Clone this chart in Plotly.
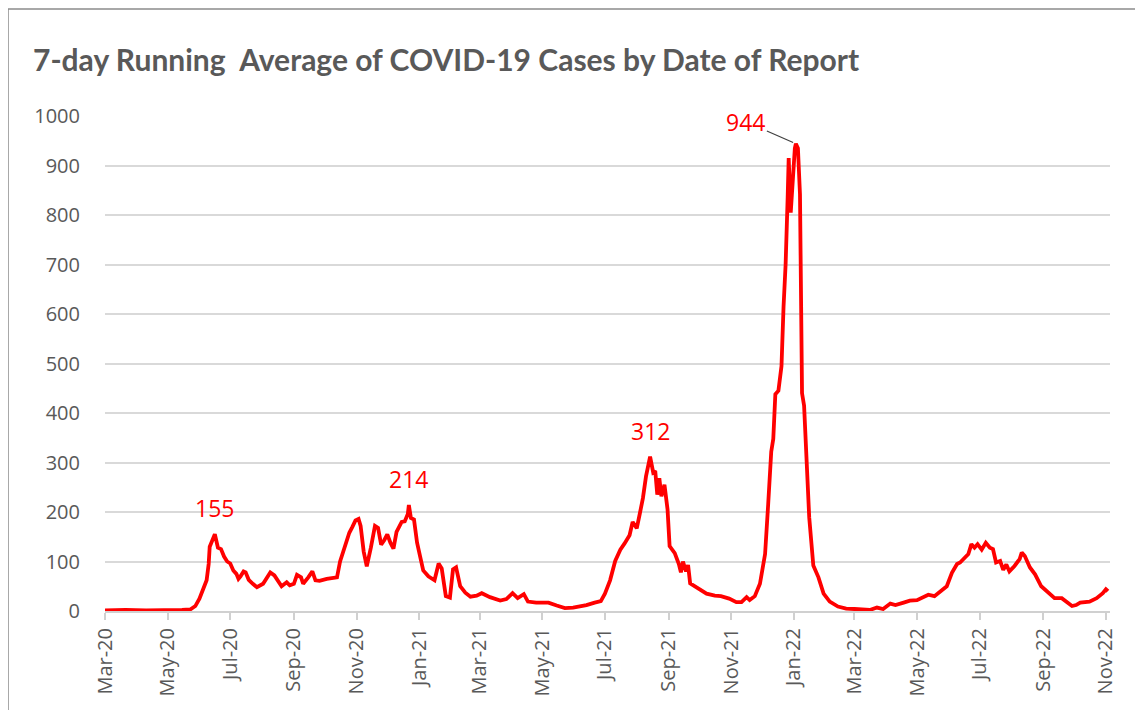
import plotly.graph_objects as go

dates = [
    "2020-03-01", "2020-03-21", "2020-04-10", "2020-04-30", "2020-05-15", "2020-05-23", "2020-05-28",
    "2020-06-01", "2020-06-05", "2020-06-08", "2020-06-10", "2020-06-11", "2020-06-13", "2020-06-16",
    "2020-06-19", "2020-06-22", "2020-06-25", "2020-06-28", "2020-07-01", "2020-07-04", "2020-07-07",
    "2020-07-09", "2020-07-11", "2020-07-14", "2020-07-16", "2020-07-19", "2020-07-23", "2020-07-27",
    "2020-08-02", "2020-08-06", "2020-08-09", "2020-08-13", "2020-08-17", "2020-08-20", "2020-08-25",
    "2020-08-28", "2020-09-01", "2020-09-04", "2020-09-08", "2020-09-10", "2020-09-15", "2020-09-19",
    "2020-09-22", "2020-09-26", "2020-10-03", "2020-10-08", "2020-10-13", "2020-10-16", "2020-10-21",
    "2020-10-25", "2020-10-28", "2020-10-31", "2020-11-03", "2020-11-05", "2020-11-08", "2020-11-11",
    "2020-11-15", "2020-11-19", "2020-11-22", "2020-11-25", "2020-11-28", "2020-12-01", "2020-12-04",
    "2020-12-07", "2020-12-10", "2020-12-15", "2020-12-18", "2020-12-21", "2020-12-22", "2020-12-24",
    "2020-12-27", "2020-12-30", "2021-01-02", "2021-01-05", "2021-01-10", "2021-01-16", "2021-01-20",
    "2021-01-23", "2021-01-27", "2021-01-31", "2021-02-03", "2021-02-06", "2021-02-10", "2021-02-15",
    "2021-02-20", "2021-02-26", "2021-03-03", "2021-03-11", "2021-03-21", "2021-03-27", "2021-04-02",
    "2021-04-07", "2021-04-13", "2021-04-17", "2021-04-25", "2021-05-07", "2021-05-15", "2021-05-23",
    "2021-05-31", "2021-06-07", "2021-06-13", "2021-06-21", "2021-06-27", "2021-07-01", "2021-07-06",
    "2021-07-11", "2021-07-16", "2021-07-20", "2021-07-25", "2021-07-28", "2021-08-01", "2021-08-04",
    "2021-08-07", "2021-08-10", "2021-08-13", "2021-08-14", "2021-08-17", "2021-08-19", "2021-08-21",
    "2021-08-23", "2021-08-25", "2021-08-28", "2021-08-31", "2021-09-02", "2021-09-07", "2021-09-11",
    "2021-09-13", "2021-09-15", "2021-09-18", "2021-09-20", "2021-09-22", "2021-09-27", "2021-10-01",
    "2021-10-08", "2021-10-16", "2021-10-22", "2021-10-30", "2021-11-06", "2021-11-11", "2021-11-16",
    "2021-11-19", "2021-11-24", "2021-11-29", "2021-12-04", "2021-12-07", "2021-12-10", "2021-12-12",
    "2021-12-14", "2021-12-17", "2021-12-20", "2021-12-22", "2021-12-24", "2021-12-26", "2021-12-27",
    "2021-12-29", "2021-12-31", "2022-01-02", "2022-01-03", "2022-01-05", "2022-01-07", "2022-01-08",
    "2022-01-09", "2022-01-11", "2022-01-13", "2022-01-16", "2022-01-20", "2022-01-25", "2022-01-30",
    "2022-02-05", "2022-02-13", "2022-02-21", "2022-03-01", "2022-03-11", "2022-03-16", "2022-03-23",
    "2022-03-29", "2022-04-05", "2022-04-10", "2022-04-18", "2022-04-24", "2022-05-01", "2022-05-07",
    "2022-05-12", "2022-05-18", "2022-05-25", "2022-05-30", "2022-06-04", "2022-06-09", "2022-06-12",
    "2022-06-17", "2022-06-20", "2022-06-23", "2022-06-26", "2022-06-29", "2022-07-03", "2022-07-07",
    "2022-07-11", "2022-07-14", "2022-07-17", "2022-07-21", "2022-07-24", "2022-07-27", "2022-07-30",
    "2022-08-04", "2022-08-09", "2022-08-11", "2022-08-14", "2022-08-19", "2022-08-24", "2022-08-30",
    "2022-09-06", "2022-09-12", "2022-09-19", "2022-09-24", "2022-09-29", "2022-10-03", "2022-10-07",
    "2022-10-16", "2022-10-23", "2022-10-29", "2022-11-01", "2022-11-03",
]

cases = [
    1, 2, 1, 1, 2, 3, 10,
    25, 45, 62, 95, 130, 140, 155,
    128, 125, 110, 100, 96, 82, 75,
    65, 70, 80, 78, 63, 55, 48,
    55, 68, 78, 72, 58, 50, 58,
    52, 55, 73, 68, 55, 68, 80,
    62, 61, 65, 66, 68, 100, 135,
    158, 170, 183, 186, 172, 120, 90,
    128, 172, 168, 134, 143, 155, 138,
    126, 160, 180, 181, 196, 214, 188,
    185, 138, 110, 82, 70, 62, 96,
    86, 30, 27, 84, 88, 50, 37,
    29, 31, 36, 28, 21, 24, 36,
    26, 34, 19, 17, 17, 11, 6,
    7, 9, 12, 17, 20, 35, 62,
    101, 124, 136, 153, 180, 167, 197,
    228, 272, 300, 312, 280, 283, 235,
    268, 232, 255, 205, 131, 117, 95,
    78, 100, 80, 93, 56, 50, 44,
    35, 31, 30, 25, 18, 18, 28,
    22, 30, 55, 115, 215, 322, 348,
    438, 445, 495, 615, 700, 835, 915,
    805, 880, 935, 944, 935, 842, 600,
    440, 415, 322, 189, 92, 68, 35,
    19, 9, 5, 4, 3, 2, 7,
    4, 15, 12, 17, 21, 22, 29,
    33, 30, 43, 50, 77, 95, 98,
    108, 115, 135, 128, 135, 124, 138,
    128, 125, 98, 101, 83, 94, 80,
    91, 105, 118, 111, 88, 74, 50,
    36, 26, 26, 19, 10, 12, 17,
    19, 26, 36, 44, 40,
]

label_dates = ["2020-06-16", "2020-12-22", "2021-08-14"]
label_values = [155, 214, 312]
peak_date = "2022-01-03"
peak_value = 944

title_text = "7-day Running  Average of COVID-19 Cases by Date of Report"

GRAY = "#595959"
FONT = "Open Sans, Liberation Sans, sans-serif"
W, H = 1135, 702  # page body has an 8px default margin

fig = go.Figure()
fig.add_trace(go.Scatter(
    x=dates, y=cases, mode="lines",
    line=dict(color="#ff0000", width=3.8),
    hoverinfo="x+y", showlegend=False,
))

for d, v in zip(label_dates, label_values):
    fig.add_annotation(x=d, y=v, text=str(v), showarrow=False, yshift=26,
                       font=dict(family=FONT, size=23, color="#ff0000"))

fig.add_annotation(x=peak_date, y=peak_value, text=str(peak_value), showarrow=True,
                   arrowhead=0, arrowwidth=1.2, arrowcolor="#404040", ax=-50, ay=-22,
                   standoff=3,
                   font=dict(family=FONT, size=23, color="#ff0000"))

# outer chart-area frame
fig.add_shape(type="rect", xref="paper", yref="paper",
              x0=-97 / 1005, x1=1.06, y0=-0.3, y1=(495 + 108 - 1) / 495,
              line=dict(color="#8c8c8c", width=1.5), fillcolor="rgba(0,0,0,0)", layer="below")

fig.update_layout(
    width=W, height=H,
    paper_bgcolor="white", plot_bgcolor="white",
    margin=dict(l=97, r=33, t=108, b=99),
    title=dict(text="<b>" + title_text + "</b>", x=25 / W, xanchor="left",
               y=1 - 52 / H, yanchor="middle",
               font=dict(family="Lato, Open Sans, sans-serif", size=30, color=GRAY)),
    xaxis=dict(
        type="date", range=["2020-03-01", "2022-11-05"],
        tick0="2020-03-01", dtick="M2", tickformat="%b-%y", tickangle=-90,
        showgrid=False, showline=True, linecolor="#d0d0d0", linewidth=2,
        ticks="outside", ticklen=7, tickcolor="#d0d0d0", tickwidth=2,
        tickfont=dict(family=FONT, size=20, color=GRAY),
        zeroline=False,
    ),
    yaxis=dict(
        range=[0, 1000], dtick=100, tick0=0,
        showgrid=True, gridcolor="#d9d9d9", gridwidth=2,
        showline=False, zeroline=False,
        ticks="outside", ticklen=20, tickcolor="rgba(0,0,0,0)",
        tickfont=dict(family=FONT, size=20, color=GRAY),
    ),
)

fig.write_html("out.html")
